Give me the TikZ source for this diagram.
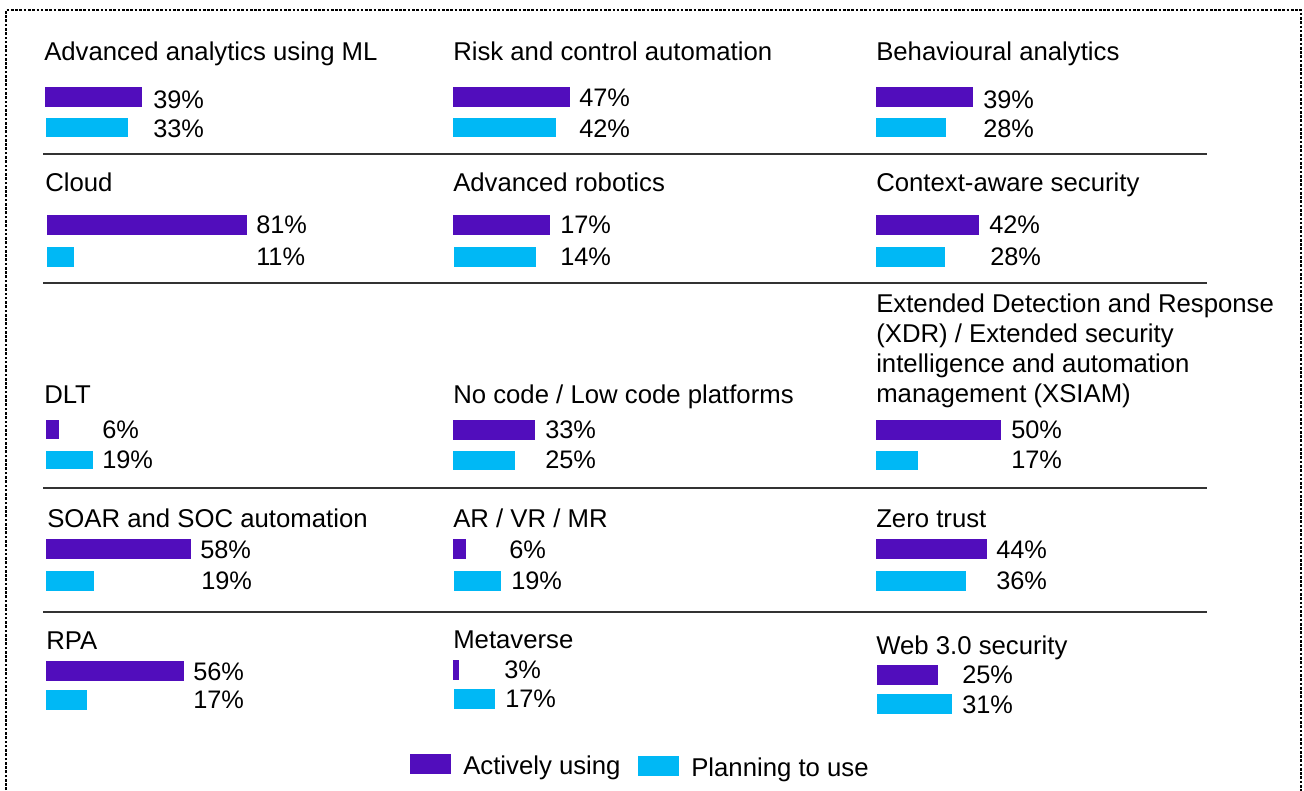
\documentclass[tikz,border=0pt]{standalone}
\usepackage{fontspec}
\setmainfont{Liberation Sans}
\usetikzlibrary{positioning}
\definecolor{kpurple}{HTML}{510DBC}
\definecolor{kcyan}{HTML}{00B8F5}
\definecolor{rulegray}{HTML}{333333}

\tikzset{
  heading/.style={anchor=base west, inner sep=0pt, font=\fontsize{19.3}{22.5}\selectfont},
  pct/.style={anchor=base west, inner sep=0pt, font=\fontsize{19}{22.5}\selectfont},
  usebar/.style={fill=kpurple},
  planbar/.style={fill=kcyan},
  sep/.style={draw=rulegray, line width=0.9pt},
  frame/.style={draw=black, line width=2pt, dash pattern=on 2pt off 1.2pt},
}

\begin{document}
\begin{tikzpicture}[x=0.75pt, y=-0.75pt]
    \useasboundingbox (0,0) rectangle (1304,790);

    % dotted frame
    \draw[frame] (6,820) -- (6,10) -- (1301,10) -- (1301,820);

    % separators
    \draw[sep] (43,154) -- (1207,154);
    \draw[sep] (43,283) -- (1207,283);
    \draw[sep] (43,488) -- (1207,488);
    \draw[sep] (43,612) -- (1207,612);

    % column 1
    \node[heading] (mlT) at (44,60) {Advanced analytics using ML};
    \fill[usebar] (45,87) rectangle (142,107);
    \fill[planbar] (46,118) rectangle (128,137);
    \node[pct] (mlA) at (153,108) {39\%};
    \node[pct] (mlP) at (153,137) {33\%};

    \node[heading] (cloudT) at (45,191) {Cloud};
    \fill[usebar] (47,215) rectangle (247,235);
    \fill[planbar] (47,247) rectangle (74,267);
    \node[pct] (cloudA) at (256,233) {81\%};
    \node[pct] (cloudP) at (256,265) {11\%};

    \node[heading] (dltT) at (44,403) {DLT};
    \fill[usebar] (46,420) rectangle (59,439);
    \fill[planbar] (46,451) rectangle (93,469);
    \node[pct] (dltA) at (102,438) {6\%};
    \node[pct] (dltP) at (102,468) {19\%};

    \node[heading] (soarT) at (47,527) {SOAR and SOC automation};
    \fill[usebar] (46,539) rectangle (191,559);
    \fill[planbar] (46,571) rectangle (94,591);
    \node[pct] (soarA) at (200,558) {58\%};
    \node[pct] (soarP) at (201,589) {19\%};

    \node[heading] (rpaT) at (46,649) {RPA};
    \fill[usebar] (46,661) rectangle (184,681);
    \fill[planbar] (46,690) rectangle (87,710);
    \node[pct] (rpaA) at (193,680) {56\%};
    \node[pct] (rpaP) at (193,708) {17\%};

    % column 2
    \node[heading] (riskT) at (453,60) {Risk and control automation};
    \fill[usebar] (453,87) rectangle (570,107);
    \fill[planbar] (453,118) rectangle (556,137);
    \node[pct] (riskA) at (579,106) {47\%};
    \node[pct] (riskP) at (579,137) {42\%};

    \node[heading] (roboT) at (453,191) {Advanced robotics};
    \fill[usebar] (453,215) rectangle (550,235);
    \fill[planbar] (454,247) rectangle (536,267);
    \node[pct] (roboA) at (560,233) {17\%};
    \node[pct] (roboP) at (560,265) {14\%};

    \node[heading] (lowT) at (453,403) {No code / Low code platforms};
    \fill[usebar] (453,420) rectangle (535,440);
    \fill[planbar] (453,451) rectangle (515,470);
    \node[pct] (lowA) at (545,438) {33\%};
    \node[pct] (lowP) at (545,468) {25\%};

    \node[heading] (arvrT) at (453,527) {AR / VR / MR};
    \fill[usebar] (453,539) rectangle (466,559);
    \fill[planbar] (454,571) rectangle (501,591);
    \node[pct] (arvrA) at (509,558) {6\%};
    \node[pct] (arvrP) at (511,589) {19\%};

    \node[heading] (metaT) at (453,648) {Metaverse};
    \fill[usebar] (453,660) rectangle (459,680);
    \fill[planbar] (454,689) rectangle (495,709);
    \node[pct] (metaA) at (504,678) {3\%};
    \node[pct] (metaP) at (505,707) {17\%};

    % column 3
    \node[heading] (behT) at (876,60) {Behavioural analytics};
    \fill[usebar] (876,87) rectangle (973,107);
    \fill[planbar] (876,118) rectangle (946,137);
    \node[pct] (behA) at (983,108) {39\%};
    \node[pct] (behP) at (983,137) {28\%};

    \node[heading] (ctxT) at (876,191) {Context-aware security};
    \fill[usebar] (876,215) rectangle (979,235);
    \fill[planbar] (876,247) rectangle (945,267);
    \node[pct] (ctxA) at (989,233) {42\%};
    \node[pct] (ctxP) at (990,265) {28\%};

    \node[heading, align=left] (xdrT) at (876,402) {Extended Detection and Response\\(XDR) / Extended security\\intelligence and automation\\management (XSIAM)};
    \fill[usebar] (876,420) rectangle (1001,440);
    \fill[planbar] (876,451) rectangle (918,470);
    \node[pct] (xdrA) at (1011,438) {50\%};
    \node[pct] (xdrP) at (1011,468) {17\%};

    \node[heading] (zeroT) at (876,527) {Zero trust};
    \fill[usebar] (876,539) rectangle (987,559);
    \fill[planbar] (876,571) rectangle (966,591);
    \node[pct] (zeroA) at (996,558) {44\%};
    \node[pct] (zeroP) at (996,589) {36\%};

    \node[heading] (webT) at (876,654) {Web 3.0 security};
    \fill[usebar] (877,665) rectangle (938,685);
    \fill[planbar] (877,694) rectangle (952,714);
    \node[pct] (webA) at (962,683) {25\%};
    \node[pct] (webP) at (962,713) {31\%};

    % legend
    \fill[usebar] (410,754) rectangle (451,774);
    \node[heading] (legA) at (463,774) {Actively using};
    \fill[planbar] (638,756) rectangle (679,776);
    \node[heading] (legP) at (691,776) {Planning to use};
\end{tikzpicture}
\end{document}
